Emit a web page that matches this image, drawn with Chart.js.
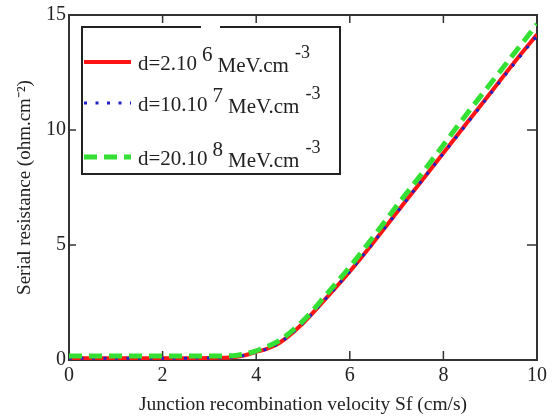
<!DOCTYPE html>
<html>
<head>
<meta charset="utf-8">
<script src="https://cdn.jsdelivr.net/npm/chart.js@4"></script>
<style>
  body { margin: 0; background: #fff; }
</style>
</head>
<body>
<canvas id="chart" width="559" height="418"></canvas>
<script>
const velocity = [0, 0.5, 1, 1.5, 2, 2.5, 3, 3.5, 3.75, 4, 4.25, 4.5, 5, 5.5, 6, 6.5, 7, 7.5, 8, 8.5, 9, 9.5, 10];
const resistance2 = [0.08, 0.08, 0.08, 0.08, 0.08, 0.08, 0.09, 0.12, 0.2, 0.35, 0.5, 0.75, 1.6, 2.7, 3.85, 5.1, 6.4, 7.7, 9.0, 10.3, 11.6, 12.9, 14.15];
const resistance10 = [0.08, 0.08, 0.08, 0.08, 0.08, 0.08, 0.09, 0.12, 0.2, 0.35, 0.5, 0.75, 1.6, 2.7, 3.85, 5.1, 6.4, 7.7, 8.98, 10.27, 11.56, 12.85, 14.1];
const resistance20 = [0.17, 0.17, 0.17, 0.17, 0.17, 0.17, 0.17, 0.19, 0.26, 0.4, 0.6, 0.85, 1.7, 2.85, 4.05, 5.35, 6.7, 8.0, 9.35, 10.7, 12.0, 13.3, 14.6];
const legendLabels = ['d=2.10', 'd=10.10', 'd=20.10'];
const legendPowers = ['6', '7', '8'];

const serif = 'Liberation Serif';
const ink = '#222';

function points(values) {
    return velocity.map((v, i) => ({ x: v, y: values[i] }));
}

// frame on all four sides with inward ticks, like the original plot
const frame = {
    id: 'frame',
    beforeDatasetsDraw(chart) {
        const { ctx, chartArea: a, scales: { x, y } } = chart;
        ctx.save();
        ctx.strokeStyle = '#333';
        ctx.lineWidth = 2;
        ctx.strokeRect(a.left, a.top, a.right - a.left, a.bottom - a.top);
        ctx.lineWidth = 1.5;
        ctx.beginPath();
        x.ticks.forEach(t => {
            if (t.value <= x.min || t.value >= x.max) return;
            const px = x.getPixelForValue(t.value);
            ctx.moveTo(px, a.bottom); ctx.lineTo(px, a.bottom - 9);
            ctx.moveTo(px, a.top); ctx.lineTo(px, a.top + 8);
        });
        y.ticks.forEach(t => {
            if (t.value <= y.min || t.value >= y.max) return;
            const py = y.getPixelForValue(t.value);
            ctx.moveTo(a.left, py); ctx.lineTo(a.left + 7, py);
            ctx.moveTo(a.right, py); ctx.lineTo(a.right - 10, py);
        });
        ctx.stroke();
        ctx.restore();
    }
};

const legendBox = {
    id: 'legendBox',
    afterDraw(chart) {
        const ctx = chart.ctx;
        const rows = [62, 103, 157];
        ctx.save();
        ctx.fillStyle = '#fff';
        ctx.fillRect(82, 27, 258, 147);
        ctx.strokeStyle = '#222';
        ctx.lineWidth = 2;
        ctx.beginPath();
        ctx.moveTo(201, 27); ctx.lineTo(82, 27); ctx.lineTo(82, 174);
        ctx.lineTo(340, 174); ctx.lineTo(340, 27); ctx.lineTo(220, 27);
        ctx.stroke();

        chart.data.datasets.forEach((ds, i) => {
            const ly = rows[i];
            ctx.strokeStyle = ds.borderColor;
            ctx.lineWidth = ds.borderWidth;
            ctx.setLineDash(ds.borderDash || []);
            ctx.beginPath();
            ctx.moveTo(84, ly); ctx.lineTo(131, ly);
            ctx.stroke();
            ctx.setLineDash([]);

            ctx.fillStyle = ink;
            ctx.textBaseline = 'alphabetic';
            ctx.font = '21px "' + serif + '"';
            let tx = 138;
            ctx.fillText(legendLabels[i], tx, ly + 8);
            tx += ctx.measureText(legendLabels[i]).width + 5;
            ctx.fillText(legendPowers[i], tx, ly - 1);
            tx += ctx.measureText(legendPowers[i]).width + 5;
            ctx.fillText('MeV.cm', tx, ly + 10);
            tx += ctx.measureText('MeV.cm').width + 6;
            ctx.font = '18px "' + serif + '"';
            ctx.fillText('-3', tx, ly - 4);
        });
        ctx.restore();
    }
};

const ctx = document.getElementById('chart').getContext('2d');
const chart = new Chart(ctx, {
    type: 'line',
    data: {
        datasets: [{
            label: legendLabels[0],
            data: points(resistance2),
            borderColor: '#ff1414',
            borderWidth: 4,
            order: 3
        }, {
            label: legendLabels[1],
            data: points(resistance10),
            borderColor: '#2020c8',
            borderWidth: 3,
            borderDash: [3, 8.5],
            order: 2
        }, {
            label: legendLabels[2],
            data: points(resistance20),
            borderColor: '#33e033',
            borderWidth: 5,
            borderDash: [13, 7],
            order: 1
        }]
    },
    options: {
        responsive: false,
        animation: false,
        devicePixelRatio: 1,
        cubicInterpolationMode: 'monotone',
        elements: { point: { radius: 0 } },
        layout: { padding: { left: 0, right: 22, top: 15, bottom: 0 } },
        plugins: { legend: { display: false }, tooltip: { enabled: false } },
        scales: {
            x: {
                type: 'linear',
                min: 0,
                max: 10,
                afterFit: s => { s.height = 58; },
                grid: { display: false, drawTicks: false },
                border: { display: false },
                ticks: { stepSize: 2, padding: 4, color: ink, font: { family: serif, size: 20 } },
                title: {
                    display: true,
                    text: 'Junction recombination velocity Sf (cm/s)',
                    color: ink,
                    font: { family: serif, size: 19.5, lineHeight: 1.2 },
                    padding: { top: 0, bottom: 1 }
                }
            },
            y: {
                min: 0,
                max: 15,
                afterFit: s => { s.width = 69; },
                grid: { display: false, drawTicks: false },
                border: { display: false },
                ticks: { stepSize: 5, padding: 3, color: ink, font: { family: serif, size: 20 } },
                title: {
                    display: true,
                    text: 'Serial resistance (ohm.cm⁻²)',
                    color: ink,
                    font: { family: serif, size: 19, lineHeight: 1.2 },
                    padding: { top: 14, bottom: 0 }
                }
            }
        }
    },
    plugins: [frame, legendBox]
});
</script>
</body>
</html>
